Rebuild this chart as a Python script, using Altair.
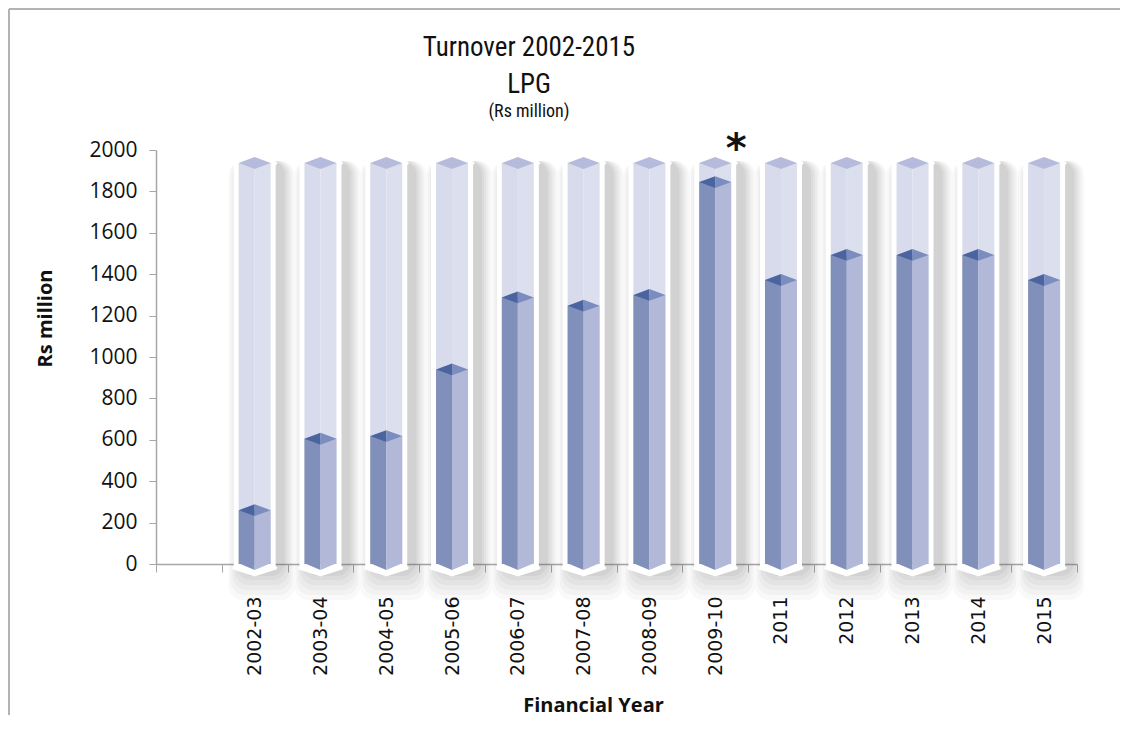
import altair as alt
import pandas as pd

# ---- data ----
years = ["2002-03", "2003-04", "2004-05", "2005-06", "2006-07", "2007-08",
         "2008-09", "2009-10", "2011", "2012", "2013", "2014", "2015"]
turnover = [260, 605, 618, 940, 1288, 1248, 1300, 1845, 1372, 1493, 1493, 1493, 1372]
y_ticks = [0, 200, 400, 600, 800, 1000, 1200, 1400, 1600, 1800, 2000]
full_level = 1937        # the pale "full" column behind each bar
marked_year = "2009-10"  # year flagged with an asterisk
title_lines = ["Turnover 2002-2015", "LPG", "(Rs million)"]

df = pd.DataFrame({"year": years, "turnover": turnover})

W, H = 921, 414
AX = "#a6a6a6"
TFONT = "Liberation Sans Narrow, Roboto Condensed, Roboto"

xscale = alt.Scale(domain=[" "] + years, paddingInner=0, paddingOuter=0)
yscale = alt.Scale(domain=[0, 2000], nice=False, zero=True)

XAXIS = alt.Axis(tickBand="extent", labelAngle=270, labelFont="DejaVu Sans",
                 labelFontSize=19, labelColor="#111", labelPadding=24,
                 tickSize=8, tickColor=AX, domainColor=AX, domainWidth=1.5,
                 title="Financial Year", titleFont="Open Sans", titleFontSize=20,
                 titleFontWeight="bold", titleColor="#111", titleX=437, titleY=141,
                 titleAlign="center", titleBaseline="middle")
YAXIS = alt.Axis(values=y_ticks, format="d", grid=False, labelFont="Open Sans",
                 labelFontSize=21, labelColor="#111", labelPadding=12,
                 tickSize=7, tickColor=AX, domainColor=AX, domainWidth=1.5,
                 title="Rs million", titleFont="Open Sans",
                 titleFontSize=20, titleFontWeight="bold",
                 titleColor="#111", titleX=-111, titleY=168,
                 titleAlign="center", titleBaseline="middle")

X = alt.X("year:N", scale=xscale, sort=None, axis=XAXIS)
base = alt.Chart(df).encode(x=X)


def yd(v):
    return alt.Y(datum=v, type="quantitative", scale=yscale, axis=YAXIS)


def y2d(v):
    return alt.Y2(datum=v)


YV = alt.Y("turnover:Q", scale=yscale, axis=YAXIS)

layers = []

# soft shadow around each column
for w, op, bo in [(66, 0.035, 36), (62, 0.04, 31), (58, 0.045, 26), (54, 0.05, 21),
                  (50, 0.055, 16), (46, 0.065, 12)]:
    layers.append(base.mark_bar(color="#555555", opacity=op, width=w, xOffset=7,
                                cornerRadius=14, yOffset=bo, y2Offset=-2)
                  .encode(y=yd(0), y2=y2d(full_level)))

# white outline capsule
layers.append(base.mark_bar(color="white", width=42, yOffset=4)
              .encode(y=yd(0), y2=y2d(full_level)))
layers.append(base.mark_point(shape="M -1 0 L 0 -0.5 L 1 0 L 0 0.5 Z", size=42 * 42,
                              filled=True, color="white", opacity=1, stroke="white",
                              strokeWidth=3, strokeJoin="round")
              .encode(y=yd(full_level)))
layers.append(base.mark_point(shape="M -1 0 L 0 -0.33 L 1 0 L 0 0.33 Z", size=42 * 42,
                              filled=True, color="white", opacity=1, stroke="white",
                              strokeWidth=3, strokeJoin="round", yOffset=4)
              .encode(y=yd(0)))

# pale full columns
layers.append(base.mark_bar(color="#d8dbec", width=16, xOffset=-8)
              .encode(y=yd(0), y2=y2d(full_level)))
layers.append(base.mark_bar(color="#dcdfee", width=16, xOffset=8)
              .encode(y=yd(0), y2=y2d(full_level)))
layers.append(base.mark_point(shape="M -1 0 L 0 -0.37 L 1 0 L 0 0.37 Z", size=32 * 32,
                              filled=True, color="#b6bbdb", opacity=1, strokeWidth=0)
              .encode(y=yd(full_level)))

# value columns (two faces)
layers.append(base.mark_bar(color="#8190bb", width=16, xOffset=-8).encode(y=YV))
layers.append(base.mark_bar(color="#b2b8d8", width=16, xOffset=8).encode(y=YV))
# top faces
layers.append(base.mark_point(shape="M -1 0 L 0 -0.37 L 0 0.37 Z", size=32 * 32,
                              filled=True, color="#4b64a0", opacity=1, strokeWidth=0)
              .encode(y=YV))
layers.append(base.mark_point(shape="M 0 -0.37 L 1 0 L 0 0.37 Z", size=32 * 32,
                              filled=True, color="#7b8dbe", opacity=1, strokeWidth=0)
              .encode(y=YV))
# pointed bottoms
layers.append(base.mark_point(shape="M -1 -0.05 L 0 -0.05 L 0 0.37 Z", size=32 * 32,
                              filled=True, color="#8190bb", opacity=1, strokeWidth=0)
              .encode(y=yd(0)))
layers.append(base.mark_point(shape="M 0 -0.05 L 1 -0.05 L 0 0.37 Z", size=32 * 32,
                              filled=True, color="#b2b8d8", opacity=1, strokeWidth=0)
              .encode(y=yd(0)))

# asterisk on the flagged year
star = alt.Chart(pd.DataFrame({"year": [marked_year], "t": ["*"]})).mark_text(
    font="DejaVu Sans", fontSize=40, fontWeight="bold", color="#111",
    dx=21, dy=12, baseline="alphabetic", align="center"
).encode(x=alt.X("year:N", scale=xscale, axis=XAXIS), y=yd(2000), text="t:N")
layers.append(star)

# chart titles as text
one = pd.DataFrame({"a": [0]})
for txt, yy, fs in [(title_lines[0], -94, 27), (title_lines[1], -57, 27), (title_lines[2], -33, 18)]:
    layers.append(alt.Chart(one).mark_text(font=TFONT, fontSize=fs, color="#111",
                                           align="center", baseline="alphabetic")
                  .encode(x=alt.value(373), y=alt.value(yy), text=alt.value(txt)))

# outer frame (top and left edges)
frame_top = alt.Chart(one).mark_rule(color="#b3b3b3", strokeWidth=2).encode(
    x=alt.value(-147), x2=alt.value(964), y=alt.value(-141))
frame_left = alt.Chart(one).mark_rule(color="#b3b3b3", strokeWidth=2).encode(
    x=alt.value(-147), y=alt.value(-141), y2=alt.value(565))
layers += [frame_top, frame_left]

chart = alt.layer(*layers).properties(
    width=W, height=H, padding=0
).configure(background="white").configure_view(stroke=None)

chart.save("out.html", embed_options={"renderer": "svg", "actions": False})
